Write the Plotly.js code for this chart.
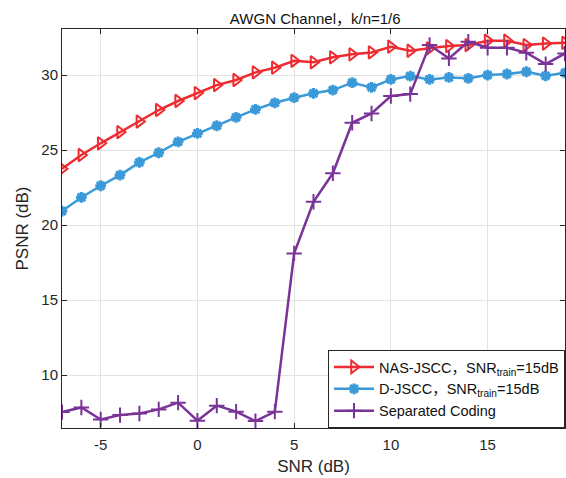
<!DOCTYPE html>
<html>
<head>
<meta charset="utf-8">
<script src="https://cdn.plot.ly/plotly-3.0.1.min.js"></script>
<style>html,body{margin:0;padding:0;background:#fff;}#chart{width:566px;height:478px;}</style>
</head>
<body>
<div id="chart"></div>
<script>
const snr = [-7,-6,-5,-4,-3,-2,-1,0,1,2,3,4,5,6,7,8,9,10,11,12,13,14,15,16,17,18,19];
const nasJscc = [23.75,24.67,25.45,26.2,26.9,27.67,28.27,28.8,29.33,29.67,30.18,30.49,30.95,30.85,31.18,31.38,31.51,31.89,31.62,31.78,31.93,32.0,32.29,32.29,32.0,32.1,32.15];
const dJscc = [20.93,21.84,22.62,23.33,24.18,24.82,25.55,26.11,26.62,27.18,27.71,28.15,28.49,28.78,29.0,29.49,29.18,29.71,29.93,29.71,29.84,29.78,30.0,30.07,30.22,29.95,30.15];
const separated = [7.53,7.84,7.04,7.33,7.44,7.71,8.16,6.96,7.96,7.56,6.93,7.56,18.11,21.55,23.45,26.82,27.44,28.6,28.73,32.0,31.11,32.22,31.82,31.82,31.49,30.73,31.44];
const seriesNames = ['NAS-JSCC，SNR<sub>train</sub>=15dB','D-JSCC，SNR<sub>train</sub>=15dB','Separated Coding'];
const xTicks = [-5,0,5,10,15];
const xTickText = ['-5','0','5','10','15'];
const yTicks = [10,15,20,25,30];

const font = 'Liberation Sans, Arial, Noto Sans CJK SC, sans-serif';
const traces = [
  {x: snr, y: nasJscc, name: seriesNames[0], mode: 'lines+markers',
   line: {color: '#ee2b30', width: 2.5},
   marker: {symbol: 'triangle-right-open', size: 11, color: '#ee2b30', line: {width: 2, color: '#ee2b30'}}},
  {x: snr, y: dJscc, name: seriesNames[1], mode: 'lines+markers',
   line: {color: '#3a9ad9', width: 2.5},
   marker: {symbol: 'asterisk-open', size: 9, color: '#3a9ad9', line: {width: 3, color: '#3a9ad9'}}},
  {x: snr, y: separated, name: seriesNames[2], mode: 'lines+markers',
   line: {color: '#7a3498', width: 2.5},
   marker: {symbol: 'cross-thin-open', size: 11, color: '#7a3498', line: {width: 2, color: '#7a3498'}}}
];
const axisCommon = {
  showline: true, linecolor: '#262626', linewidth: 1, mirror: 'ticks',
  ticks: 'inside', ticklen: 5, tickcolor: '#262626',
  showgrid: true, gridcolor: '#e3e3e3', gridwidth: 1, zeroline: false,
  tickfont: {family: font, size: 15, color: '#262626'}
};
const layout = {
  width: 566, height: 478,
  margin: {l: 62, r: 1, t: 29, b: 50},
  paper_bgcolor: '#fff', plot_bgcolor: '#fff',
  title: {text: 'AWGN Channel，k/n=1/6', font: {family: font, size: 15, color: '#111'}, x: 0.557, xanchor: 'center', y: 0.96, yanchor: 'middle'},
  xaxis: Object.assign({}, axisCommon, {range: [-7, 19], tickvals: xTicks, ticktext: xTickText, ticklabelstandoff: 3,
    title: {text: 'SNR (dB)', font: {family: font, size: 17, color: '#262626'}, standoff: 8}}),
  yaxis: Object.assign({}, axisCommon, {range: [6.47, 33.07], tickvals: yTicks,
    title: {text: 'PSNR (dB)', font: {family: font, size: 17, color: '#262626'}, standoff: 8}}),
  showlegend: true,
  legend: {x: 1, xanchor: 'right', y: 0, yanchor: 'bottom', bgcolor: '#fff',
    bordercolor: '#262626', borderwidth: 1, font: {family: font, size: 14.5, color: '#111'},
    tracegroupgap: 0, itemwidth: 40}
};
Plotly.newPlot('chart', traces, layout, {displayModeBar: false, staticPlot: true});
</script>
</body>
</html>
